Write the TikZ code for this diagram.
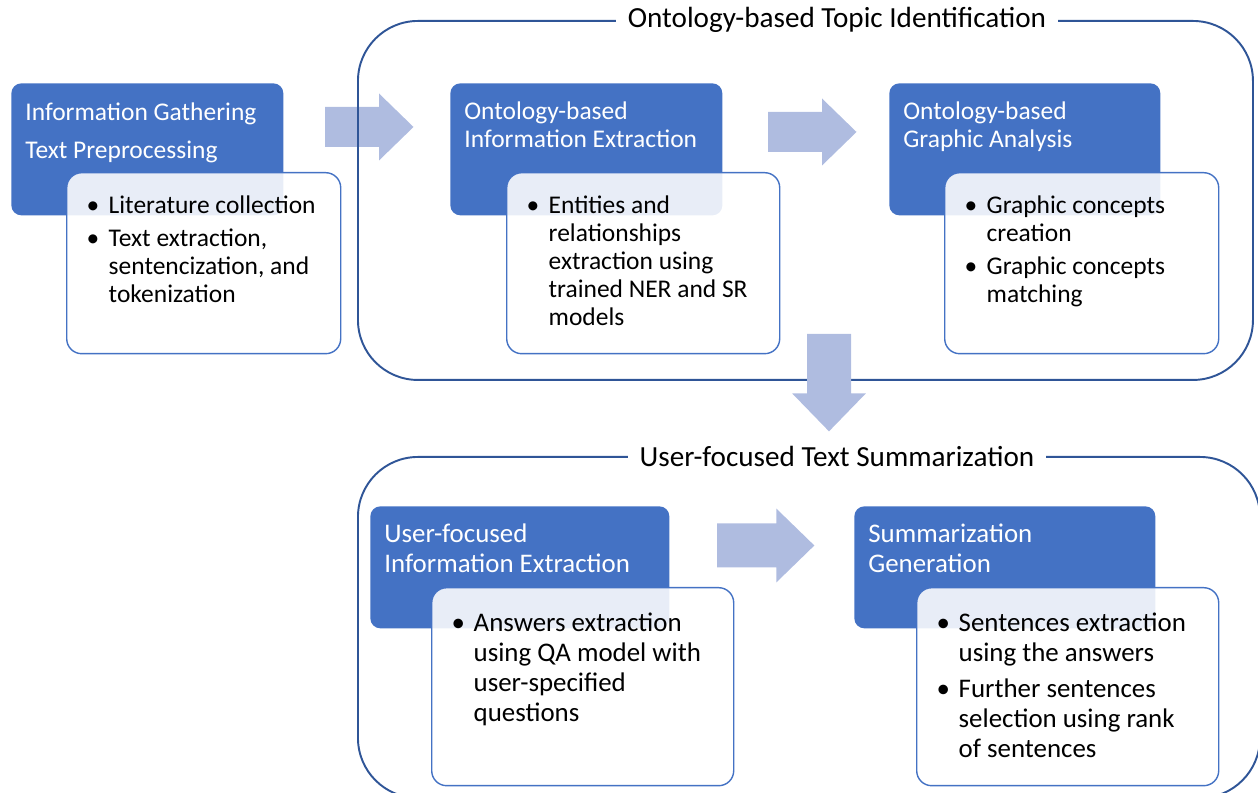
\documentclass[tikz,border=0pt]{standalone}
\usepackage{fontspec}
\setmainfont{Carlito}

\definecolor{headblue}{HTML}{4472C4}
\definecolor{framedark}{HTML}{2F5597}
\definecolor{arrowfill}{RGB}{175,188,224}

\newcommand{\bpoint}{\par\hangindent=0.44cm\hangafter=1\noindent\makebox[0.44cm][l]{\textbullet}}
\newcommand{\cardtext}[4]{\parbox[t][#2][t]{#1}{\leftskip=0.40cm\rightskip=0.36cm plus 1fil\parfillskip=0pt plus 1fil\parskip=#3\hyphenpenalty=10000\exhyphenpenalty=10000 #4}}
\newcommand{\headtext}[3]{\parbox[t][#2][t]{#1}{\raggedright #3}}

\tikzset{
    blockarrow/.pic={
            \fill[arrowfill] (0,0.4) -- (1.08,0.4) -- (1.08,0.67) -- (1.77,0) -- (1.08,-0.67) -- (1.08,-0.4) -- (0,-0.4) -- cycle;
        }
}

\begin{document}
\begin{tikzpicture}[
        head/.style={
                rectangle,
                rounded corners=0.2cm,
                fill=headblue,
                text=white,
                inner xsep=0.28cm,
                inner ysep=0pt,
                anchor=north west
            },
        card/.style={
                rectangle,
                rounded corners=0.3cm,
                draw=headblue,
                line width=0.8pt,
                fill=white,
                fill opacity=0.88,
                text opacity=1,
                text=black,
                inner sep=0pt,
                anchor=north west
            },
        groupframe/.style={
                rectangle,
                rounded corners=1.2cm,
                draw=framedark,
                line width=1.1pt,
                inner sep=0pt,
                anchor=north west
            },
        grouptitle/.style={
                fill=white,
                inner xsep=0.24cm,
                inner ysep=2pt,
                font=\fontsize{16.6}{19}\selectfont
            },
        toprow/.style = {font=\fontsize{14.5}{15.9}\selectfont},
        lowrow/.style = {font=\fontsize{15.3}{17}\selectfont}
    ]
    \useasboundingbox (0,0) rectangle (25.16,-15.86);

    \pic at (6.5,-2.54) {blockarrow};

    \node[groupframe, minimum width=17.9cm, minimum height=7.18cm] (topicFrame) at (7.14,-0.4) {};
    \node[groupframe, minimum width=18.04cm, minimum height=6.82cm] (summaryFrame) at (7.14,-9.12) {};
    \node[grouptitle] (topicTitle) at ([xshift=0.63cm]topicFrame.north) {Ontology-based Topic Identification};
    \node[grouptitle] (summaryTitle) at ([xshift=0.56cm]summaryFrame.north) {User-focused Text Summarization};

    \pic at (15.36,-2.64) {blockarrow};
    \pic[scale=1.1] at (14.34,-10.91) {blockarrow};
    \pic[scale=1.1, rotate=-90] at (16.58,-6.68) {blockarrow};

    \node[head, toprow] (gatherHead) at (0.22,-1.66) {\headtext{4.88cm}{2.64cm}{\rule{0pt}{0.74cm}Information Gathering\\[5.7pt]Text Preprocessing}};
    \node[card, toprow] (gatherCard) at ([shift={(1.1,-1.78)}]gatherHead.north west) {\cardtext{5.48cm}{3.62cm}{3pt}{%
            \bpoint\rule{0pt}{0.82cm}Literature collection
            \bpoint Text extraction, sentencization, and tokenization}};

    \node[head, toprow] (extractHead) at (9.0,-1.66) {\headtext{4.88cm}{2.64cm}{\rule{0pt}{0.72cm}Ontology-based\\Information Extraction}};
    \node[card, toprow] (extractCard) at ([shift={(1.12,-1.78)}]extractHead.north west) {\cardtext{5.46cm}{3.62cm}{3pt}{%
            \bpoint\rule{0pt}{0.82cm}Entities and relationships extraction using trained NER and SR models}};

    \node[head, toprow] (graphicHead) at (17.78,-1.66) {\headtext{4.86cm}{2.64cm}{\rule{0pt}{0.72cm}Ontology-based\\Graphic Analysis}};
    \node[card, toprow] (graphicCard) at ([shift={(1.1,-1.78)}]graphicHead.north west) {\cardtext{5.48cm}{3.62cm}{3pt}{%
            \bpoint\rule{0pt}{0.82cm}Graphic concepts creation
            \bpoint Graphic concepts matching}};

    \node[head, lowrow] (userHead) at (7.4,-10.12) {\headtext{5.42cm}{2.44cm}{\rule{0pt}{0.72cm}User-focused\\Information Extraction}};
    \node[card, lowrow] (userCard) at ([shift={(1.22,-1.62)}]userHead.north west) {\cardtext{6.04cm}{3.96cm}{3.4pt}{%
            \bpoint\rule{0pt}{0.88cm}Answers extraction using QA model with user-specified questions}};

    \node[head, lowrow] (summaryHead) at (17.08,-10.12) {\headtext{5.46cm}{2.44cm}{\rule{0pt}{0.72cm}Summarization\\Generation}};
    \node[card, lowrow] (summaryCard) at ([shift={(1.24,-1.62)}]summaryHead.north west) {\cardtext{6.04cm}{3.96cm}{3.4pt}{%
            \bpoint\rule{0pt}{0.88cm}Sentences extraction using the answers
            \bpoint Further sentences selection using rank of sentences}};
\end{tikzpicture}
\end{document}
